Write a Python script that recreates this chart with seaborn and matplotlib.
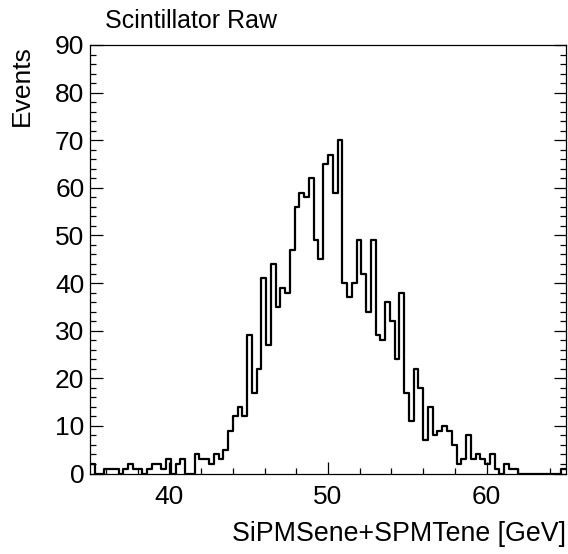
import numpy as np
import pandas as pd
import matplotlib
matplotlib.use("Agg")
import matplotlib.pyplot as plt
from matplotlib.ticker import MultipleLocator
import seaborn as sns

# ---- data ----
x_min, x_max, n_bins = 35.0, 65.0, 100
counts = [2, 0, 0, 1, 1, 1, 0, 1, 2, 1, 1, 0, 1, 2, 2, 1, 3, 0, 2, 3,
          0, 0, 4, 3, 3, 2, 4, 3, 5,
          9, 12, 14, 12, 29, 17, 22, 41, 27, 44, 35, 39, 38, 47, 56, 59, 58,
          62, 49, 45, 65, 67, 59, 70, 40, 37,
          40, 49, 42, 34, 49, 29, 28, 36, 32, 24, 38, 17, 11, 22, 18, 7, 14,
          8, 9, 10, 9,
          6, 2, 3, 8, 3, 4, 3, 2, 4, 1, 0, 2, 1, 1,
          0, 0, 0, 0, 0, 0, 0, 0, 0, 1]
x_ticks = [40, 50, 60]
y_ticks = [0, 10, 20, 30, 40, 50, 60, 70, 80, 90]
title = "Scintillator Raw"
x_label = "SiPMSene+SPMTene [GeV]"
y_label = "Events"

edges = np.linspace(x_min, x_max, n_bins + 1)
centers = 0.5 * (edges[:-1] + edges[1:])
df = pd.DataFrame({"energy": centers, "events": counts})

sns.set_style("ticks")
plt.rcParams["font.family"] = ["Liberation Sans", "DejaVu Sans"]
plt.rcParams["text.color"] = "black"
plt.rcParams["axes.labelcolor"] = "black"
plt.rcParams["xtick.color"] = "black"
plt.rcParams["ytick.color"] = "black"

W, H = 568, 554
fig = plt.figure(figsize=(W / 100, H / 100), dpi=100)
ax = fig.add_axes([90 / W, 1 - 473.5 / H, (566 - 90) / W, (473.5 - 45) / H])

sns.histplot(data=df, x="energy", weights="events", bins=n_bins,
             binrange=(x_min, x_max),
             element="step", fill=False, color="black", linewidth=1.6, ax=ax)

ax.set_xlim(x_min, x_max)
ax.set_ylim(0, 90)
ax.set_xticks(x_ticks)
ax.set_yticks(y_ticks)
ax.xaxis.set_minor_locator(MultipleLocator(2))
ax.yaxis.set_minor_locator(MultipleLocator(2))
ax.tick_params(which="both", direction="in", top=False, right=True,
               labelsize=19, color="black", labelcolor="black", width=0.9)
ax.tick_params(which="major", length=9)
ax.tick_params(which="minor", length=4.5)
ax.tick_params(axis="x", which="major", pad=8)
ax.tick_params(axis="y", which="major", pad=4)
for s in ax.spines.values():
    s.set_linewidth(0.9)
    s.set_color("black")

ax.set_xlabel(x_label, fontsize=19.3, loc="right", color="black")
ax.xaxis.set_label_coords(1.0, -0.112)
ax.xaxis.label.set_va("top")
ax.set_ylabel(y_label, fontsize=19, loc="top", color="black")
ax.yaxis.set_label_coords(-0.118, 1.0)

fig.text(105 / W, 1 - 28 / H, title, fontsize=18, ha="left", va="baseline",
         color="black")

fig.savefig("out.png", dpi=100, facecolor="white")
